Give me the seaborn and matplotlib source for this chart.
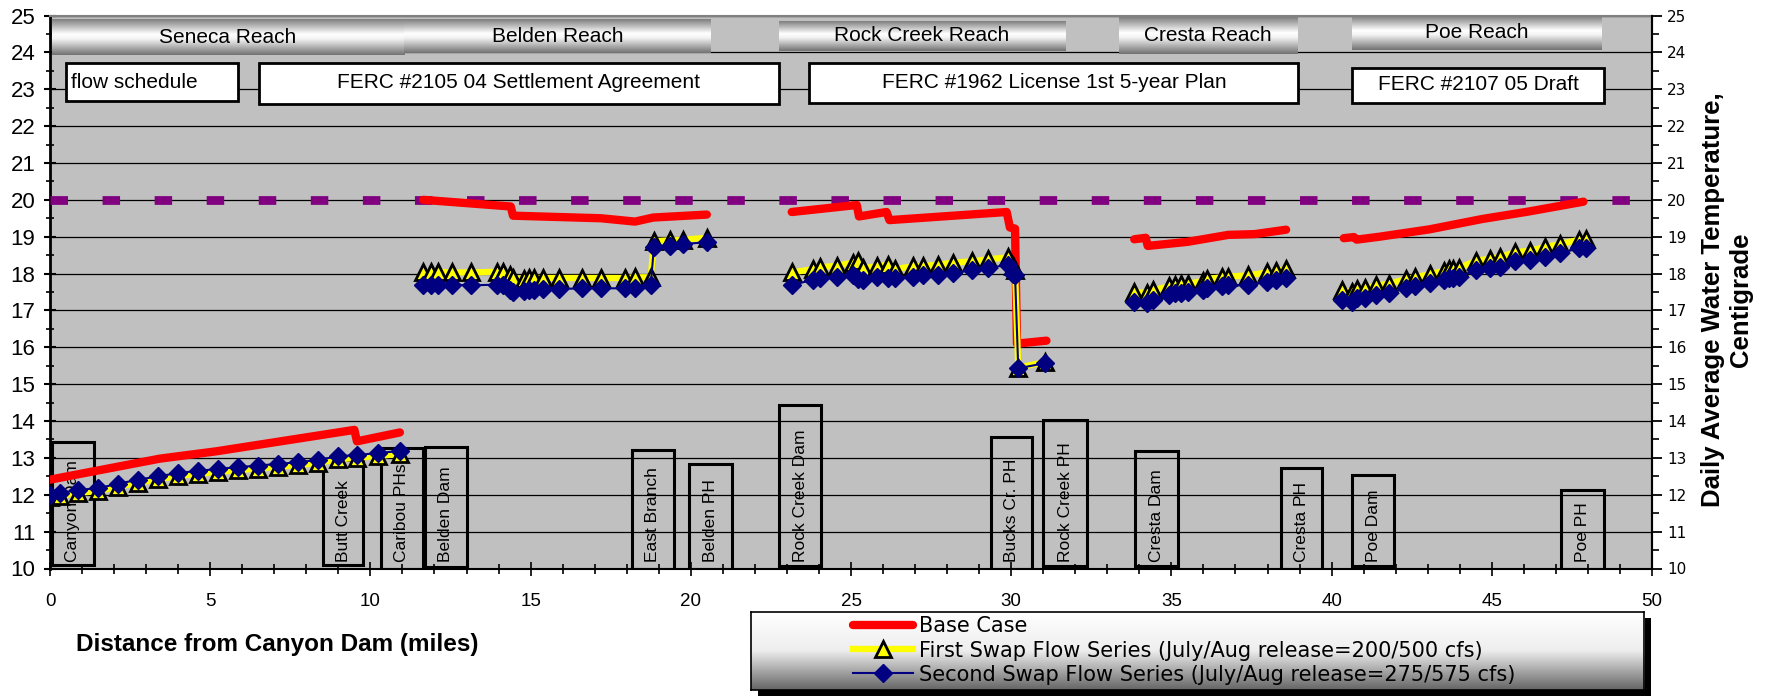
import matplotlib
matplotlib.use("Agg")
import numpy as np
import pandas as pd
import matplotlib.pyplot as plt
import seaborn as sns
from matplotlib.patches import Rectangle
from matplotlib.lines import Line2D
from matplotlib.colors import LinearSegmentedColormap
from matplotlib.ticker import MultipleLocator

# ---------------- data ----------------
# Base Case (segment id separates reaches)
base_x = [0.0, 3.43, 5.2, 9.5, 9.58, 10.92,
          11.65, 14.38, 14.45, 17.2, 18.26, 18.83, 20.5,
          23.15, 25.18, 25.25, 26.11, 26.2, 29.86, 29.96, 30.12, 30.18, 31.1,
          33.84, 34.2, 34.26, 35.5, 36.78, 37.6, 38.58,
          40.38, 40.7, 40.78, 41.5, 43.06, 44.7, 46.13, 47.86]
base_y = [12.41, 12.98, 13.18, 13.76, 13.45, 13.69,
          20.0, 19.82, 19.57, 19.5, 19.41, 19.52, 19.6,
          19.67, 19.86, 19.55, 19.67, 19.45, 19.67, 19.25, 19.22, 16.1, 16.18,
          18.93, 18.97, 18.75, 18.86, 19.05, 19.07, 19.19,
          18.96, 18.99, 18.92, 19.0, 19.2, 19.48, 19.68, 19.95]
base_seg = [1] * 6 + [2] * 7 + [3] * 10 + [4] * 7 + [5] * 8

# Swap flow series (shared stations)
swap_x = [0.0, 0.31, 0.88, 1.51, 2.13, 2.76, 3.38, 4.0, 4.63, 5.25, 5.87, 6.5, 7.12,
          7.75, 8.37, 9.0, 9.57, 10.25, 10.92,
          11.65, 11.9, 12.1, 12.55, 13.15, 13.95, 14.15, 14.35, 14.45, 14.8, 14.95, 15.1,
          15.4, 15.9, 16.6, 17.2, 17.95, 18.25, 18.75, 18.85, 19.35, 19.75, 20.5,
          23.15, 23.82, 24.03, 24.55, 25.07, 25.23, 25.38, 25.8, 26.16, 26.37, 26.94,
          27.26, 27.73, 28.19, 28.77, 29.29, 29.91, 30.05, 30.12, 30.22, 31.06,
          33.84, 34.24, 34.44, 34.91, 35.11, 35.31, 35.51, 35.98, 36.11, 36.58, 36.78,
          37.38, 37.98, 38.25, 38.58,
          40.32, 40.65, 40.78, 41.05, 41.39, 41.78, 42.32, 42.59, 43.06, 43.52, 43.66,
          43.79, 43.99, 44.52, 44.93, 45.26, 45.73, 46.19, 46.66, 47.13, 47.73, 47.93]
swap_seg = [1] * 19 + [2] * 23 + [3] * 21 + [4] * 15 + [5] * 22
first_y = [11.93, 11.97, 12.05, 12.1, 12.22, 12.33, 12.42, 12.51, 12.57, 12.62, 12.67, 12.71, 12.76,
           12.8, 12.87, 12.96, 13.0, 13.05, 13.11,
           18.05, 18.05, 18.05, 18.03, 18.03, 18.05, 18.05, 17.95, 17.88, 17.85, 17.88, 17.88,
           17.88, 17.88, 17.88, 17.88, 17.88, 17.9, 17.9, 18.88, 18.9, 18.92, 18.97,
           18.03, 18.12, 18.17, 18.21, 18.3, 18.35, 18.15, 18.2, 18.24, 18.12, 18.2,
           18.21, 18.24, 18.3, 18.33, 18.39, 18.44, 18.2, 18.1, 15.45, 15.6,
           17.5, 17.48, 17.55, 17.65, 17.7, 17.72, 17.72, 17.8, 17.85, 17.9, 17.92,
           17.95, 18.03, 18.07, 18.12,
           17.55, 17.5, 17.58, 17.6, 17.68, 17.72, 17.85, 17.9, 17.98, 18.08, 18.12,
           18.13, 18.16, 18.35, 18.4, 18.45, 18.58, 18.62, 18.72, 18.8, 18.92, 18.95]
second_y = [12.0, 12.05, 12.13, 12.18, 12.3, 12.41, 12.5, 12.59, 12.65, 12.7, 12.75, 12.79, 12.84,
            12.88, 12.95, 13.04, 13.08, 13.13, 13.19,
            17.7, 17.7, 17.7, 17.7, 17.68, 17.7, 17.68, 17.55, 17.5, 17.52, 17.55, 17.55,
            17.57, 17.58, 17.6, 17.6, 17.6, 17.62, 17.7, 18.72, 18.75, 18.8, 18.85,
            17.69, 17.83, 17.88, 17.92, 17.97, 17.85, 17.83, 17.92, 17.88, 17.88, 17.92,
            17.97, 17.97, 18.01, 18.1, 18.15, 18.24, 18.0, 17.95, 15.43, 15.57,
            17.24, 17.2, 17.29, 17.42, 17.47, 17.47, 17.49, 17.56, 17.6, 17.67, 17.69,
            17.69, 17.78, 17.83, 17.88,
            17.29, 17.24, 17.33, 17.33, 17.42, 17.47, 17.6, 17.65, 17.74, 17.83, 17.88,
            17.88, 17.92, 18.1, 18.15, 18.19, 18.33, 18.37, 18.46, 18.55, 18.69, 18.69]

# 20 C criterion line
crit_x = [0, 50]
crit_y = [20, 20]

reach_names = ["Seneca Reach", "Belden Reach", "Rock Creek Reach", "Cresta Reach", "Poe Reach"]
reach_x0 = [0.05, 11.05, 22.75, 33.35, 40.63]
reach_x1 = [11.05, 20.63, 31.68, 38.91, 48.43]
reach_y0 = [23.93, 23.98, 24.04, 23.96, 24.07]
reach_y1 = [24.88, 24.9, 24.85, 24.96, 24.99]

plan_names = ["flow schedule", "FERC #2105 04 Settlement Agreement",
              "FERC #1962 License 1st 5-year Plan", "FERC #2107 05 Draft"]
plan_x0 = [0.49, 6.52, 23.7, 40.64]
plan_x1 = [5.88, 22.75, 38.96, 48.51]
plan_y0 = [22.67, 22.6, 22.62, 22.64]
plan_y1 = [23.72, 23.72, 23.72, 23.57]

loc_names = ["Canyon Dam", "Butt Creek", "Caribou PHs", "Belden Dam", "East Branch", "Belden PH",
             "Rock Creek Dam", "Bucks Cr. PH", "Rock Creek PH", "Cresta Dam", "Cresta PH",
             "Poe Dam", "Poe PH"]
loc_x0 = [0.05, 8.51, 10.32, 11.69, 18.15, 19.95, 22.76, 29.36, 31.0, 33.86, 38.41, 40.65, 47.17]
loc_x1 = [1.38, 9.78, 11.65, 13.0, 19.48, 21.28, 24.06, 30.66, 32.38, 35.2, 39.71, 41.94, 48.5]
loc_top = [13.44, 12.95, 13.27, 13.29, 13.22, 12.83, 14.44, 13.58, 14.03, 13.19, 12.72, 12.54, 12.12]
loc_bot = [10.1, 10.1, 10.0, 10.05, 10.0, 10.0, 10.08, 10.0, 10.08, 10.08, 10.0, 10.08, 10.0]

legend_labels = ["Base Case",
                 "First Swap Flow Series (July/Aug release=200/500 cfs)",
                 "Second Swap Flow Series (July/Aug release=275/575 cfs)"]

x_ticks = [0, 5, 10, 15, 20, 25, 30, 35, 40, 45, 50]
y_ticks = list(range(10, 26))

# ---------------- figure ----------------
plt.rcParams['font.family'] = ['Liberation Sans', 'DejaVu Sans']

W, H = 1771, 696
fig = plt.figure(figsize=(W / 100, H / 100), dpi=100)
ax = fig.add_axes([50 / W, 1 - 568.5 / H, (1652 - 50) / W, (568.5 - 15.5) / H])
ax.set_facecolor('#C0C0C0')

base_df = pd.DataFrame({'mile': base_x, 'temp': base_y, 'seg': base_seg})
swap_df = pd.DataFrame({'mile': swap_x, 'first': first_y, 'second': second_y, 'seg': swap_seg})
crit_df = pd.DataFrame({'mile': crit_x, 'temp': crit_y})

RED = '#FF0000'
YEL = '#FFFF00'
NAVY = '#000080'
PURP = '#800080'
TRI_MS, TRI_MEW = 11, 2.0
DIA_MS = 8.8

sns.lineplot(data=crit_df, x='mile', y='temp', ax=ax, color=PURP, linewidth=6.3,
             linestyle=(0, (2.0, 3.95)), dash_capstyle='butt', zorder=3, legend=False)
sns.lineplot(data=base_df, x='mile', y='temp', units='seg', estimator=None, sort=False, ax=ax,
             color=RED, linewidth=6, solid_capstyle='round', solid_joinstyle='round',
             zorder=4, legend=False)
sns.lineplot(data=swap_df, x='mile', y='first', units='seg', estimator=None, sort=False, ax=ax,
             color=YEL, linewidth=4.5, marker='^', markersize=TRI_MS, markerfacecolor=YEL,
             markeredgecolor='black', markeredgewidth=TRI_MEW, zorder=5, legend=False)
sns.lineplot(data=swap_df, x='mile', y='second', units='seg', estimator=None, sort=False, ax=ax,
             color=NAVY, linewidth=1.5, marker='D', markersize=DIA_MS, markerfacecolor=NAVY,
             markeredgecolor=NAVY, markeredgewidth=1.0, zorder=6, legend=False)

# reach header boxes with gradient
reach_cmap = LinearSegmentedColormap.from_list(
    'reach', [(0, '#808080'), (0.42, '#ffffff'), (0.55, '#f4f4f4'), (1, '#737373')])
grad = np.linspace(0, 1, 64).reshape(-1, 1)
for name, x0, x1, y0, y1 in zip(reach_names, reach_x0, reach_x1, reach_y0, reach_y1):
    ax.imshow(grad, extent=(x0, x1, y0, y1), cmap=reach_cmap, aspect='auto', origin='upper',
              interpolation='bilinear', zorder=2)
    ax.text((x0 + x1) / 2, (y0 + y1) / 2, name, ha='center', va='center', fontsize=15, zorder=3)

# plan boxes
for i, (name, x0, x1, y0, y1) in enumerate(zip(plan_names, plan_x0, plan_x1, plan_y0, plan_y1)):
    ax.add_patch(Rectangle((x0, y0), x1 - x0, y1 - y0, facecolor='white', edgecolor='black',
                           linewidth=2, zorder=2))
    if i == 0:
        ax.text(x0 + 0.16, (y0 + y1) / 2, name, ha='left', va='center', fontsize=15, zorder=3)
    else:
        ax.text((x0 + x1) / 2, (y0 + y1) / 2 + 0.02, name, ha='center', va='center',
                fontsize=15, zorder=3)

# location boxes
for name, x0, x1, yt, yb in zip(loc_names, loc_x0, loc_x1, loc_top, loc_bot):
    ax.add_patch(Rectangle((x0, yb), x1 - x0, yt - yb, facecolor='none', edgecolor='black',
                           linewidth=2.2, zorder=2))
    ax.text((x0 + x1) / 2, 10.17, name, rotation=90, ha='center', va='bottom',
            fontsize=12.5, zorder=3)

# axes, ticks, grid
ax.set_xlim(0, 50)
ax.set_ylim(10, 25)
ax.set_xticks(x_ticks)
ax.set_yticks(y_ticks)
ax.xaxis.set_minor_locator(MultipleLocator(1))
ax.yaxis.set_minor_locator(MultipleLocator(0.5))
ax.set_xlabel('')
ax.set_ylabel('')
ax.yaxis.grid(True, which='major', color='black', linewidth=0.9)
ax.xaxis.grid(False)
ax.set_axisbelow(True)
ax.tick_params(axis='y', which='major', direction='inout', length=9, width=1.5,
               labelsize=16, pad=6)
ax.tick_params(axis='y', which='minor', direction='inout', length=6, width=1.2)
ax.tick_params(axis='x', which='major', direction='inout', length=10, width=1.2,
               labelsize=13.5, pad=13)
ax.tick_params(axis='x', which='minor', direction='inout', length=7, width=1.2)
for side, lw, col in [('left', 2, 'black'), ('bottom', 1.5, 'black'),
                      ('top', 1.5, '#808080'), ('right', 1.5, 'black')]:
    ax.spines[side].set_linewidth(lw)
    ax.spines[side].set_color(col)

ax2 = ax.twinx()
ax2.set_ylim(10, 25)
ax2.set_yticks(y_ticks)
ax2.yaxis.set_minor_locator(MultipleLocator(0.5))
ax2.tick_params(axis='y', which='major', direction='out', length=7, width=1.3,
                labelsize=11, pad=4)
ax2.tick_params(axis='y', which='minor', direction='out', length=5, width=1.2)
for lab in ax2.get_yticklabels():
    lab.set_family('DejaVu Sans')
for s in ['left', 'top', 'bottom']:
    ax2.spines[s].set_visible(False)
ax2.spines['right'].set_linewidth(1.5)

fig.text(76 / W, 1 - 645 / H, 'Distance from Canyon Dam (miles)', ha='left', va='center',
         fontsize=17.5, fontweight='bold')
fig.text(1727 / W, 1 - 300 / H, 'Daily Average Water Temperature,\nCentigrade', rotation=90,
         ha='center', va='center', multialignment='center', fontsize=18.5,
         fontweight='bold', linespacing=1.25)

# legend with gradient box and shadow
lx0, lx1, ly_top, ly_bot = 751, 1644, 611.7, 690
fig.add_artist(Rectangle(((lx0 + 7) / W, 1 - (ly_bot + 6) / H), (lx1 - lx0) / W,
                         (ly_bot - ly_top) / H, transform=fig.transFigure,
                         facecolor='black', edgecolor='none', zorder=0.5))
lax = fig.add_axes([lx0 / W, 1 - ly_bot / H, (lx1 - lx0) / W, (ly_bot - ly_top) / H])
lax.set_zorder(3)
leg_cmap = LinearSegmentedColormap.from_list('leg', ['#ffffff', '#eeeeee', '#666666'])
lax.imshow(grad, extent=(0, 1, 0, 1), cmap=leg_cmap, aspect='auto', origin='upper',
           interpolation='bilinear')
lax.set_xlim(0, 1)
lax.set_ylim(0, 1)
lax.set_xticks([])
lax.set_yticks([])
for s in lax.spines.values():
    s.set_linewidth(1.2)
    s.set_color('black')
handles = [
    Line2D([], [], color=RED, linewidth=6, solid_capstyle='round'),
    Line2D([], [], color=YEL, linewidth=4.5, marker='^', markersize=TRI_MS, markerfacecolor=YEL,
           markeredgecolor='black', markeredgewidth=TRI_MEW),
    Line2D([], [], color=NAVY, linewidth=1.5, marker='D', markersize=DIA_MS,
           markerfacecolor=NAVY, markeredgecolor=NAVY),
]
lax.legend(handles, legend_labels, loc='upper left', bbox_to_anchor=(0.114, 0.94),
           frameon=False, borderpad=0, borderaxespad=0, handlelength=2.9,
           handletextpad=0.3, labelspacing=0.2, prop={'family': 'DejaVu Sans', 'size': 15},
           numpoints=1)

fig.savefig('out.png', dpi=100)
